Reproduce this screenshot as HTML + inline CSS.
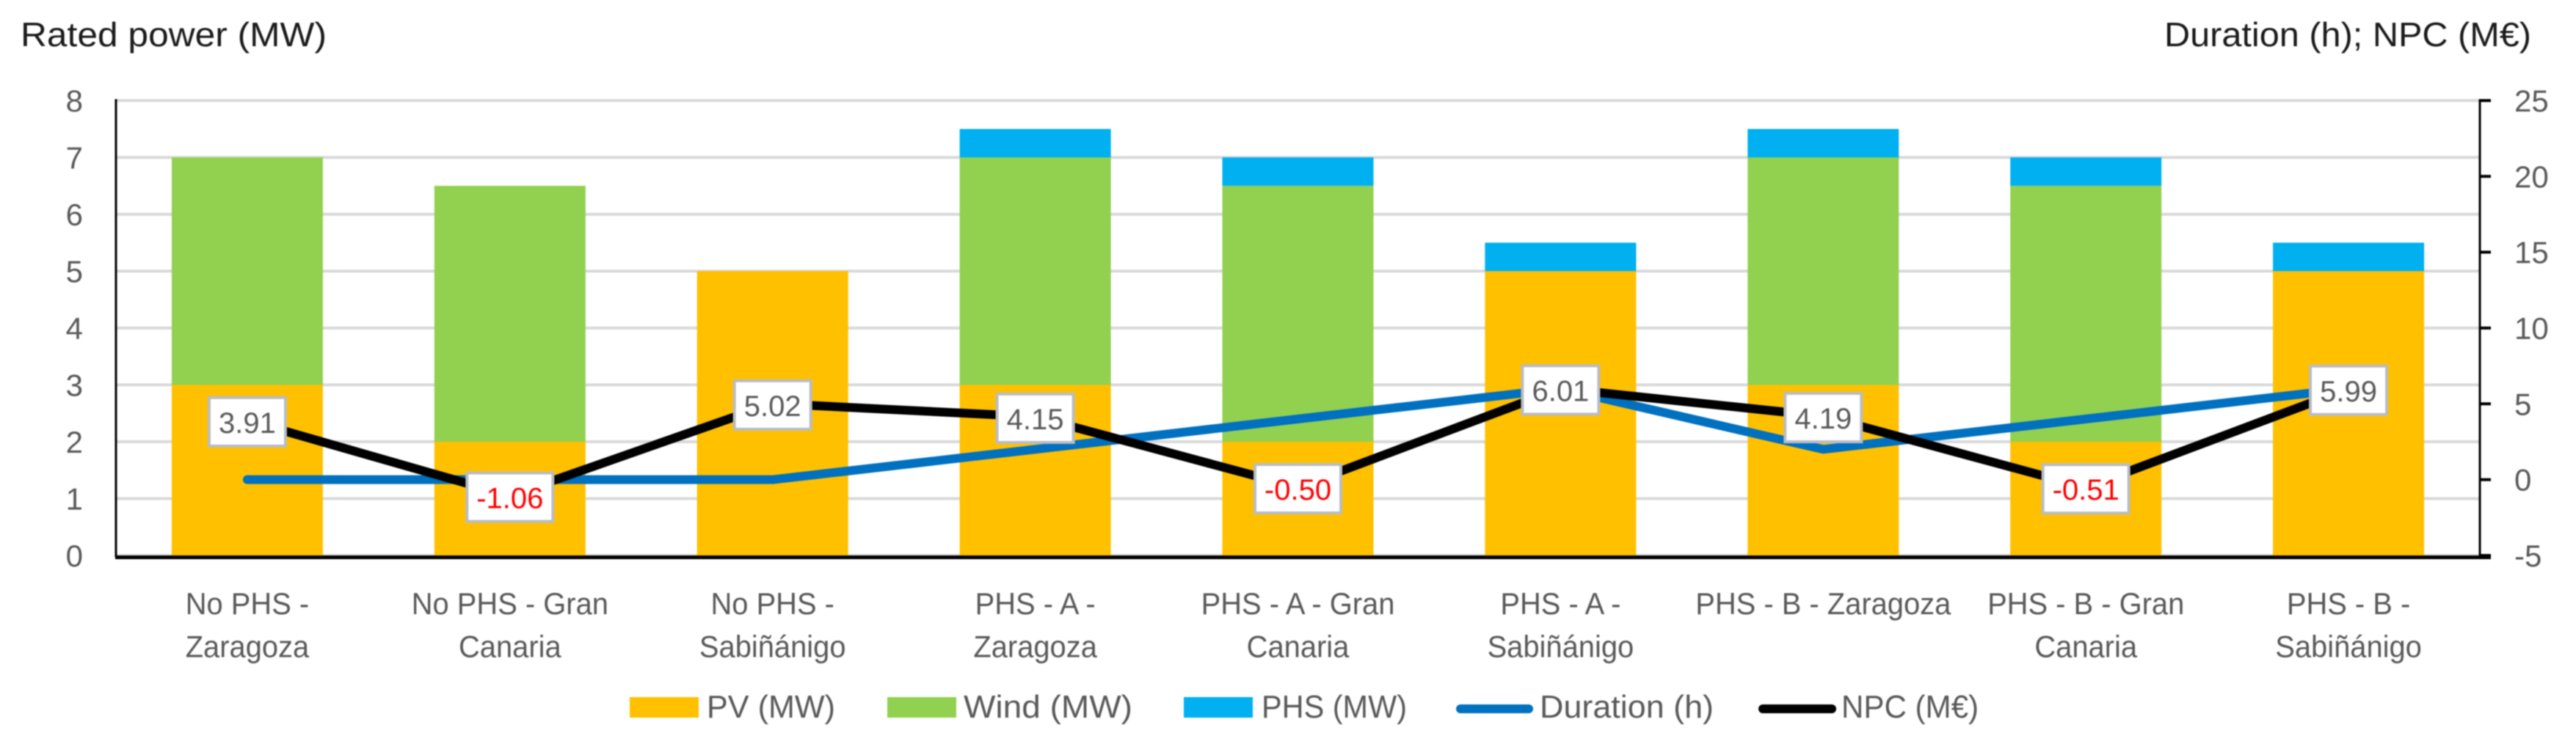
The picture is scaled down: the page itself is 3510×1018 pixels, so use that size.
<!DOCTYPE html>
<html lang="en">
<head>
<meta charset="utf-8">
<title>Rated power, duration and NPC by scenario</title>
<style>
html,body{margin:0;padding:0;background:#fff;width:3510px;height:1018px;overflow:hidden}
svg{display:block;filter:blur(0.7px)}
text{font-family:"Liberation Sans",sans-serif}
</style>
</head>
<body>
<svg id="chart" xmlns="http://www.w3.org/2000/svg" width="3510" height="1018" viewBox="0 0 3510 1018">
  <rect x="0" y="0" width="3510" height="1018" fill="#ffffff"/>
  <text x="28" y="63" font-size="46" fill="#1a1a1a" textLength="417" lengthAdjust="spacingAndGlyphs">Rated power (MW)</text>
  <text x="2949" y="63" font-size="46" fill="#1a1a1a" textLength="500" lengthAdjust="spacingAndGlyphs">Duration (h); NPC (M€)</text>
  <g id="grid"></g>
  <g id="bars"></g>
  <g id="lines"></g>
  <g id="axes"></g>
  <g id="labels"></g>
  <g id="xlabels"></g>
  <g>
    <g>
      <rect x="858" y="950" width="94" height="28" fill="#FFC000"/>
      <text x="963" y="978" font-size="44" fill="#595959" textLength="175" lengthAdjust="spacingAndGlyphs">PV (MW)</text>
    </g>
    <g>
      <rect x="1209" y="950" width="94" height="28" fill="#92D050"/>
      <text x="1313" y="978" font-size="44" fill="#595959" textLength="230" lengthAdjust="spacingAndGlyphs">Wind (MW)</text>
    </g>
    <g>
      <rect x="1613" y="950" width="94" height="28" fill="#00B0F0"/>
      <text x="1719" y="978" font-size="44" fill="#595959" textLength="198" lengthAdjust="spacingAndGlyphs">PHS (MW)</text>
    </g>
    <g>
      <line x1="1990" y1="966" x2="2083" y2="966" stroke="#0070C0" stroke-width="12" stroke-linecap="round"/>
      <text x="2098" y="978" font-size="44" fill="#595959" textLength="237" lengthAdjust="spacingAndGlyphs">Duration (h)</text>
    </g>
    <g>
      <line x1="2402" y1="966" x2="2496" y2="966" stroke="#000000" stroke-width="12" stroke-linecap="round"/>
      <text x="2509" y="978" font-size="44" fill="#595959" textLength="187" lengthAdjust="spacingAndGlyphs">NPC (M€)</text>
    </g>
  </g>
</svg>
<script>
const categories = [
  ["No PHS -", "Zaragoza"],
  ["No PHS - Gran", "Canaria"],
  ["No PHS -", "Sabiñánigo"],
  ["PHS - A -", "Zaragoza"],
  ["PHS - A - Gran", "Canaria"],
  ["PHS - A -", "Sabiñánigo"],
  ["PHS - B - Zaragoza"],
  ["PHS - B - Gran", "Canaria"],
  ["PHS - B -", "Sabiñánigo"]
];
const pvValues = [3, 2, 5, 3, 2, 5, 3, 2, 5];
const windValues = [4, 4.5, 0, 4, 4.5, 0, 4, 4.5, 0];
const phsValues = [0, 0, 0, 0.5, 0.5, 0.5, 0.5, 0.5, 0.5];
const durationValues = [0, 0, 0, 2, 4, 6, 2, 4, 6];
const npcValues = [3.91, -1.06, 5.02, 4.15, -0.50, 6.01, 4.19, -0.51, 5.99];
const leftTicks = [0, 1, 2, 3, 4, 5, 6, 7, 8];
const rightTicks = [-5, 0, 5, 10, 15, 20, 25];

const NS = "http://www.w3.org/2000/svg";
const plotLeft = 158, plotRight = 3379, plotTop = 137, plotBottom = 757;
const bandWidth = (plotRight - plotLeft) / categories.length;
const barWidth = 206;

function xCenter(i) { return plotLeft + bandWidth * (i + 0.5); }
function yLeft(v) { return plotBottom - (v - 0) / (8 - 0) * (plotBottom - plotTop); }
function yRight(v) { return plotBottom - (v + 5) / (25 + 5) * (plotBottom - plotTop); }

function make(tag, attrs, parentId, content) {
  const node = document.createElementNS(NS, tag);
  for (const key in attrs) node.setAttribute(key, attrs[key]);
  if (content !== undefined) node.textContent = content;
  document.getElementById(parentId).appendChild(node);
  return node;
}

leftTicks.forEach(function (t) {
  const grid = make("line", { x1: plotLeft, x2: plotRight, y1: yLeft(t), y2: yLeft(t), stroke: "#d9d9d9", "stroke-width": 4 }, "grid");
  
  
  const label = make("text", { x: 113, y: yLeft(t) + 15, "font-size": 42, fill: "#595959", "text-anchor": "end" }, "axes", String(t));
  
  
});

categories.forEach(function (lines, i) {
  const cx = xCenter(i);
  const stacks = [
    [pvValues[i], 0, "#FFC000", "bar-pv"],
    [windValues[i], pvValues[i], "#92D050", "bar-wind"],
    [phsValues[i], pvValues[i] + windValues[i], "#00B0F0", "bar-phs"]
  ];
  stacks.forEach(function (s) {
    if (s[0] <= 0) return;
    const bar = make("rect", { x: cx - barWidth / 2, y: yLeft(s[1] + s[0]), width: barWidth, height: yLeft(s[1]) - yLeft(s[1] + s[0]), fill: s[2] }, "bars");
    
    
  });
  lines.forEach(function (line, k) {
    const t = make("text", { transform: "translate(" + cx + "," + (837 + k * 58.5) + ") scale(0.95,1)", "font-size": 42, fill: "#595959", "text-anchor": "middle" }, "xlabels", line);
    
    
  });
});

function pointsFor(values) {
  return values.map(function (v, i) { return xCenter(i) + "," + yRight(v); }).join(" ");
}
const durationLine = make("polyline", { points: pointsFor(durationValues), fill: "none", stroke: "#0070C0", "stroke-width": 12, "stroke-linecap": "round", "stroke-linejoin": "round" }, "lines");


const npcLine = make("polyline", { points: pointsFor(npcValues), fill: "none", stroke: "#000000", "stroke-width": 12, "stroke-linecap": "round", "stroke-linejoin": "round" }, "lines");



const leftAxis = make("line", { x1: plotLeft, x2: plotLeft, y1: plotTop - 2, y2: plotBottom + 2, stroke: "#000000", "stroke-width": 3 }, "axes");


const rightAxis = make("line", { x1: plotRight, x2: plotRight, y1: plotTop - 2, y2: plotBottom + 2, stroke: "#000000", "stroke-width": 3 }, "axes");


const xAxis = make("line", { x1: plotLeft - 1, x2: 3394, y1: plotBottom + 2.5, y2: plotBottom + 2.5, stroke: "#000000", "stroke-width": 5 }, "axes");



rightTicks.forEach(function (t) {
  const tick = make("line", { x1: plotRight, x2: 3394, y1: yRight(t), y2: yRight(t), stroke: "#000000", "stroke-width": 4 }, "axes");
  
  
  const label = make("text", { x: 3426, y: yRight(t) + 15, "font-size": 42, fill: "#595959" }, "axes", String(t));
  
  
});

npcValues.forEach(function (v, i) {
  const negative = v < 0;
  const w = negative ? 121 : 108;
  const h = 70;
  const cx = xCenter(i);
  const cy = yRight(v) + 2;
  const box = make("rect", { x: cx - w / 2 + 2, y: cy - h / 2 + 2, width: w - 4, height: h - 4, fill: "#ffffff", stroke: "#b9bcc4", "stroke-width": 4 }, "labels");
  
  
  const text = make("text", { x: cx, y: cy + 15, "font-size": 40, fill: negative ? "#ff0000" : "#595959", "text-anchor": "middle" }, "labels", v.toFixed(2));
  
  
});
</script>
</body>
</html>
